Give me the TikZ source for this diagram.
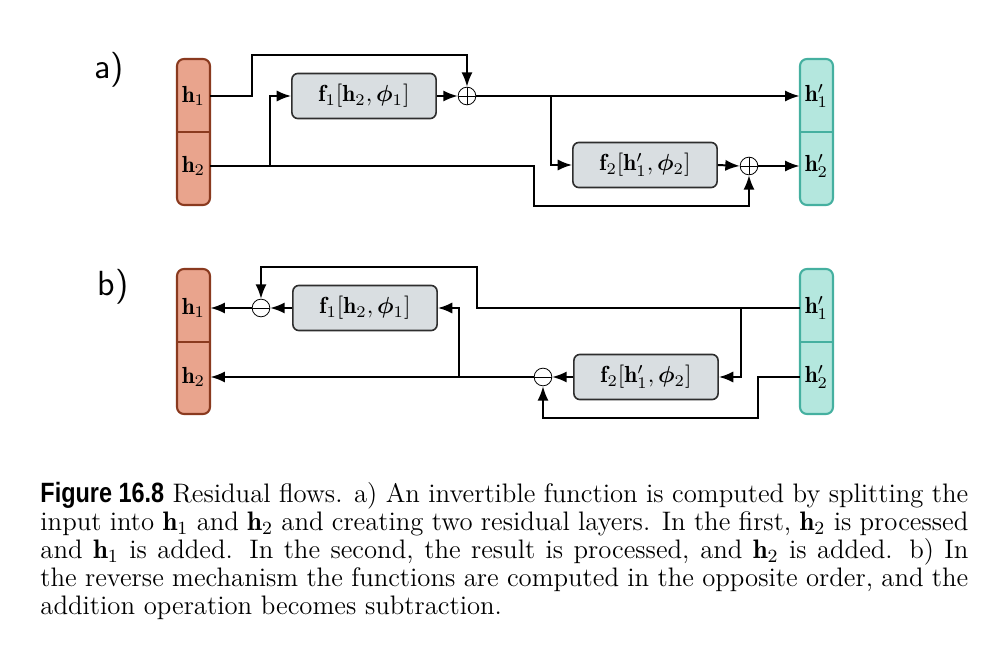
\documentclass[tikz,border=0pt]{standalone}
\usepackage{amsmath,bm}
\usepackage{fontspec}
\newfontfamily\figlabfont{Liberation Sans}
\usetikzlibrary{arrows.meta}
\definecolor{orfill}{HTML}{E9A48D}
\definecolor{ordraw}{HTML}{8A3A1F}
\definecolor{tlfill}{HTML}{B4E7DE}
\definecolor{tldraw}{HTML}{45B0A0}
\definecolor{bxfill}{HTML}{D9DEE1}
\definecolor{bxdraw}{HTML}{2E2E2E}
\tikzset{
  blockbg/.style={rounded corners=3pt, line width=0.9pt},
  cell/.style={minimum width=14.2pt, minimum height=31.4pt, inner sep=0pt},
  fbox/.style={draw=bxdraw, fill=bxfill, rounded corners=2.6pt, line width=0.7pt,
               minimum width=62pt, minimum height=19.4pt, inner sep=0pt},
  opc/.style={circle, draw=black, line width=0.35pt, fill=white, minimum size=7.6pt, inner sep=0pt},
  plusop/.style={opc, path picture={\draw[line width=0.35pt] (path picture bounding box.north) -- (path picture bounding box.south) (path picture bounding box.west) -- (path picture bounding box.east);}},
  minusop/.style={opc, path picture={\draw[line width=0.35pt] (path picture bounding box.west) -- (path picture bounding box.east);}},
  arr/.style={line width=0.85pt, -{Latex[length=6.2pt,width=4.8pt]}},
  panel/.style={font=\sffamily\fontsize{15}{18}\selectfont}
}
\begin{document}
\begin{tikzpicture}[x=0.43pt,y=-0.43pt]
\useasboundingbox (0,0) rectangle (994,650);
% ---------- panel a ----------
\node[panel] (la) at (109,70) {a)};
\draw[blockbg, fill=orfill, draw=ordraw] (177,59) rectangle (210,205);
\draw[ordraw, line width=0.9pt] (177,132) -- (210,132);
\node[cell] (h1a) at (193.5,96) {$\mathbf{h}_1$};
\node[cell] (h2a) at (193.5,166) {$\mathbf{h}_2$};
\draw[blockbg, fill=tlfill, draw=tldraw] (800,59) rectangle (833,205);
\draw[tldraw, line width=0.9pt] (800,132) -- (833,132);
\node[cell] (h1pa) at (816.5,96) {$\mathbf{h}'_1$};
\node[cell] (h2pa) at (816.5,166) {$\mathbf{h}'_2$};
\node[fbox] (f1a) at (364,96) {$\mathbf{f}_1[\mathbf{h}_2,\bm{\phi}_1]$};
\node[fbox] (f2a) at (645,165) {$\mathbf{f}_2[\mathbf{h}'_1,\bm{\phi}_2]$};
\node[plusop] (p1) at (467,96) {};
\node[plusop] (p2) at (749,166) {};
\coordinate (a1) at (252,55);
\coordinate (a2) at (534,206);
\coordinate (a3) at (270,166);
\coordinate (a4) at (551,96);
\draw[arr] (h1a.east) -| (a1) -| (p1.north);
\draw[arr] (h2a.east) -| (a2) -| (p2.south);
\draw[arr] (a3) |- (f1a.west);
\draw[arr] (f1a.east) -- (p1.west);
\draw[arr] (p1.east) -- (h1pa.west);
\draw[arr] (a4) |- (f2a.west);
\draw[arr] (f2a.east) -- (p2.west);
\draw[arr] (p2.east) -- (h2pa.west);
% ---------- panel b ----------
\node[panel] (lb) at (113,287) {b)};
\draw[blockbg, fill=orfill, draw=ordraw] (177,269) rectangle (210,414);
\draw[ordraw, line width=0.9pt] (177,342) -- (210,342);
\node[cell] (h1b) at (193.5,308) {$\mathbf{h}_1$};
\node[cell] (h2b) at (193.5,377) {$\mathbf{h}_2$};
\draw[blockbg, fill=tlfill, draw=tldraw] (800,269) rectangle (833,414);
\draw[tldraw, line width=0.9pt] (800,342) -- (833,342);
\node[cell] (h1pb) at (816.5,308) {$\mathbf{h}'_1$};
\node[cell] (h2pb) at (816.5,377) {$\mathbf{h}'_2$};
\node[fbox] (f1b) at (365,308) {$\mathbf{f}_1[\mathbf{h}_2,\bm{\phi}_1]$};
\node[fbox] (f2b) at (646,377) {$\mathbf{f}_2[\mathbf{h}'_1,\bm{\phi}_2]$};
\node[minusop] (m1) at (261,308) {};
\node[minusop] (m2) at (543,377) {};
\coordinate (b1) at (477,267);
\coordinate (b2) at (741,308);
\coordinate (b3) at (459,377);
\coordinate (b4) at (758,418);
\draw[arr] (h1pb.west) -| (b1) -| (m1.north);
\draw[arr] (b2) |- (f2b.east);
\draw[arr] (f2b.west) -- (m2.east);
\draw[arr] (m2.west) -- (h2b.east);
\draw[arr] (b3) |- (f1b.east);
\draw[arr] (f1b.west) -- (m1.east);
\draw[arr] (m1.west) -- (h1b.east);
\draw[arr] (h2pb.west) -| (b4) -| (m2.south);
% ---------- caption ----------
\node[anchor=north west, inner sep=0pt, text width=399pt, align=justify,
      font=\fontsize{11.5}{12.05}\selectfont] (cap) at (40,482)
{\scalebox{0.84}[1]{\figlabfont\fontsize{12}{12}\selectfont\bfseries Figure 16.8} Residual flows. a) An invertible function is computed by splitting the\linebreak
input into $\mathbf{h}_1$ and $\mathbf{h}_2$ and creating two residual layers. In the first, $\mathbf{h}_2$ is processed\linebreak
and $\mathbf{h}_1$ is added. In the second, the result is processed, and $\mathbf{h}_2$ is added. b) In\linebreak
the reverse mechanism the functions are computed in the opposite order, and the\linebreak
addition operation becomes subtraction.};
\end{tikzpicture}
\end{document}
